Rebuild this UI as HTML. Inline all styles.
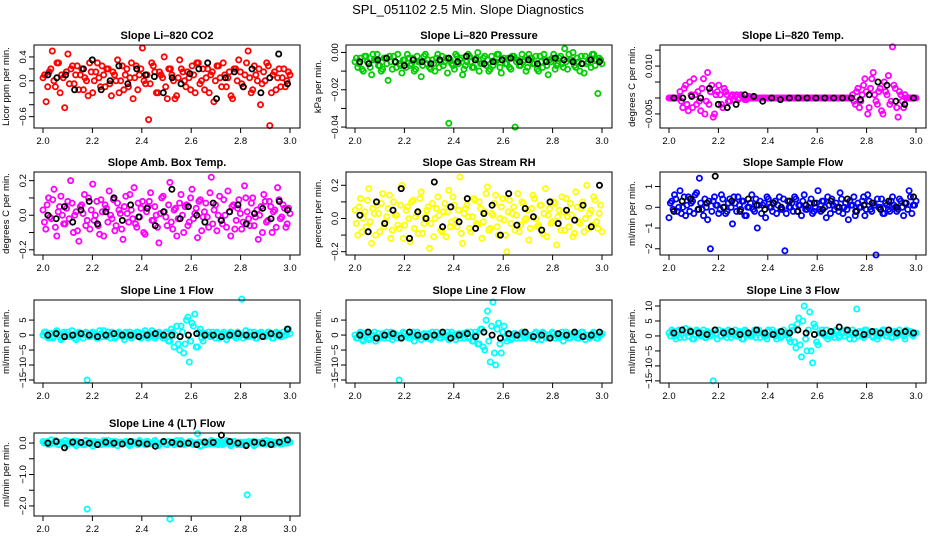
<!DOCTYPE html>
<html><head><meta charset="utf-8"><style>
body{margin:0;background:#fff;}
svg{display:block;font-family:"Liberation Sans",Arial,sans-serif;}
</style></head><body>
<svg id="c" width="936" height="540" viewBox="0 0 936 540">
<rect width="936" height="540" fill="#fff"/>
<text x="468" y="14" text-anchor="middle" font-size="13">SPL_051102  2.5 Min. Slope Diagnostics</text>
</svg>
<script>
const co2Vals=[0.05,-0.35,0.15,0.5,-0.1,0.3,0.1,-0.45,0.45,0.2,-0.05,0.25,0.1,-0.15,0.0,0.3,-0.2,0.15,0.05,0.25,-0.1,0.2,-0.25,0.1,0.35,0.0,-0.15,0.2,0.05,-0.3,0.25,0.1,0.55,-0.05,-0.65,0.3,0.15,-0.2,0.1,0.4,-0.3,0.2,0.0,-0.25,0.35,0.15,-0.1,0.05,0.25,-0.2,0.3,0.0,-0.15,0.2,0.1,-0.35,0.25,0.05,0.3,-0.1,0.15,-0.3,0.2,0.35,-0.05,0.1,0.5,-0.2,0.25,0.0,-0.4,0.15,0.3,-0.75,0.1,-0.15,0.2,0.05,-0.1,0.15];
const co2Vals2=[0.1,-0.1,0.2,0.0,0.3,-0.2,0.05,0.15,-0.05,0.25,0.1,-0.15,0.2,0.05,-0.25,0.15,0.0,0.3,-0.1,0.1,0.2,-0.05,0.15,0.0,-0.2,0.25,0.1,-0.1,0.3,0.05,-0.15,0.2,0.0,0.1,-0.05,0.25,-0.2,0.15,0.05,-0.1,0.2,0.1,-0.3,0.05,0.2,0.0,0.15,-0.15,0.1,0.3,-0.05,0.2,0.05,-0.2,0.15,0.0,0.25,-0.1,0.1,0.05,-0.25,0.2,0.0,0.15,-0.1,0.3,0.05,-0.15,0.1,0.2,-0.05,0.0,0.25,-0.2,0.15,0.05,-0.1,0.2,0.0,0.1];
const co2Black=[0.1,0.05,0.1,-0.15,0.2,0.35,-0.15,0.0,0.25,-0.05,0.2,0.1,0.07,-0.2,0.05,-0.05,0.12,0.2,0.3,-0.3,0.05,0.15,-0.1,0.2,-0.2,0.05,0.45,-0.05];
const presVals=[-5,-8,-3,-10,-2,-6,-12,-4,-1,-7,-9,-3,-15,-5,-2,-8,-6,-11,-4,-1,-7,-3,-9,-5,-13,-2,-6,-8,-4,-10,-1,-5,-7,-3,-38,-6,-9,-2,-4,-12,-7,-1,-5,-8,-3,-10,-6,-2,-4,-9,-7,-5,-1,-11,-3,-6,-8,-2,-40,-4,-7,-5,-10,-1,-3,-6,-9,-2,-8,-4,-12,-5,-1,-7,-3,-6,2,-9,-4,0,-8,-5,-2,-11,-6,-3,-1,-7,-22,-4].map(v=>v/1000);
const presVals2=[-3,-6,-9,-2,-5,-8,-1,-4,-7,-10,-3,-6,-2,-9,-5,-1,-7,-4,-8,-3,-6,-10,-2,-5,-7,-1,-4,-9,-6,-3,-8,-2,-5,-11,-4,-7,-1,-6,-3,-9,-5,-2,-8,-4,0,-6,-3,-7,-10,-2,-5,-1,-8,-4,-6,-3,-9,-2,-5,-7,-1,-4,-8,-3,-6,-2,-10,-5,-1,-7,-4,-3,-9,-6,-2,-8,-5,-1,-4,-7,-3,-10,-6,-2,-5,-8,-1,-4,-3,-6].map(v=>v/1000);
const presBlack=[-5,-6,-4,-3,-5,-7,-4,-5,-6,-4,-3,-5,-2,-4,-6,-5,-4,-3,-5,-4,-6,-5,-3,-4,-5,-6,-4,-5].map(v=>v/1000);
const tempVals=[0,0,0,0,2,-3,4,-4,1,6,-2,-1,3,-5,8,2,-6,1,4,-2,3,1,-1,1,0.5,-0.5,1,0,-0.5,0.5,0,0,0,0,0,0,0,0,0,0,0,0,0,0,0,0,0,0,0,0,0,0,0,0,0,0,0,0,0,0,0,0,0,0,0,0,0,-1,2,-3,1,6,-5,3,8,-1,2,-4,5,1,-2,16,3,-6,1,-3,0,0,0,0].map(v=>v/1000);
const tempVals2=[0,0,0,0,-1,3,-2,5,-3,1,2,-4,6,-1,-2,4,-5,2,1,-3,2,-1,0.5,-0.5,1,0,0.5,-0.5,0,0,0,0,0,0,0,0,0,0,0,0,0,0,0,0,0,0,0,0,0,0,0,0,0,0,0,0,0,0,0,0,0,0,0,0,0,0,1,-2,3,-1,4,2,-3,6,1,-2,3,-5,2,7,-1,4,-3,2,-1,1,0,0,0,0].map(v=>v/1000);
const tempBlack=[0,0,0.5,0,3,-2,-3,-2,1,0.5,-1,0,-0.5,0,0,0,0,0,0,0,0,-0.5,1,5,4,-1,-2,0].map(v=>v/1000);
const ambVals=[3,-8,10,-2,15,-12,5,0,-5,8,20,-10,2,-15,6,12,-3,-8,18,0,-6,9,-12,4,14,-2,-9,7,1,-14,11,-4,3,16,-7,-1,8,-11,5,13,-3,0,-16,10,2,-6,19,-8,4,-2,12,-10,6,-4,15,1,-13,9,-1,7,-7,22,3,-9,11,-5,0,14,-12,6,-3,9,-8,17,2,-6,10,-1,-14,5,12,-4,8,-10,3,16,-2,6,-7,4].map(v=>v/100);
const ambVals2=[-4,6,-1,9,-7,2,11,-5,4,-2,7,0,-9,5,1,-6,10,3,-3,8,-11,2,6,-4,0,9,-6,3,-8,5,1,12,-2,-5,7,4,-10,2,8,-3,5,-7,1,11,-1,6,-4,3,-12,7,0,5,-6,10,-2,4,8,-9,2,-1,13,-5,6,0,-3,9,-7,2,5,-8,4,1,-4,10,-2,7,-6,3,0,-10,8,-3,5,2,-7,9,-1,4,-5,1].map(v=>v/100);
const ambBlack=[0,-2,5,-4,3,8,-5,2,10,-3,6,-1,4,-6,2,15,-2,5,0,-4,7,-3,2,6,-5,1,4,-2,8,3].map(v=>v/100);
const rhVals=[5,-10,12,0,-5,18,-15,3,8,-8,15,-2,6,-12,10,2,-6,20,-4,7,-14,11,1,-9,16,-3,5,-18,9,0,13,-7,4,-11,17,-2,8,-5,25,-15,6,1,-8,12,-3,10,-12,4,19,-6,2,14,-10,7,-1,-20,11,3,-7,15,-4,9,0,-13,6,12,-5,8,-9,18,2,-3,10,-16,5,13,-7,1,9,-11,16,-2,6,-8,20,3,-4,11,-6,8].map(v=>v/100);
const rhVals2=[-3,7,-8,4,11,-2,6,-10,3,9,-5,1,14,-7,2,-4,8,-12,5,0,10,-6,3,12,-9,1,7,-3,-11,6,2,-8,9,4,-5,13,-1,5,-9,3,8,-6,1,11,-4,6,-2,15,-7,3,9,-5,0,12,-10,4,-3,7,2,-8,10,-1,5,-6,14,0,-4,8,3,-11,6,-2,9,1,-7,4,12,-5,2,-9,7,-3,10,0,-6,5,13,-2,3,-8].map(v=>v/100);
const rhBlack=[2,-8,10,-3,5,18,-12,4,0,22,-5,7,-2,12,-6,3,8,-10,15,-4,6,1,-7,10,-3,5,-1,8,-5,20].map(v=>v/100);
const sfVals=[-5,3,6,-2,8,0,-4,5,2,-3,7,14,-1,4,-6,-20,3,1,-3,6,0,-2,4,-8,2,5,-1,3,-4,0,6,-2,-10,3,1,-5,4,0,2,-3,5,-1,-21,3,0,-2,4,1,-4,6,-1,2,-3,0,8,-2,3,-5,1,4,-1,0,7,-3,2,-6,1,5,-2,0,3,-4,6,-1,2,-23,0,4,-3,1,-2,5,0,-1,3,-4,2,8,-3,1].map(v=>v/10);
const sfVals2=[2,-1,4,0,-3,5,1,-2,3,6,-1,2,-4,0,3,-2,5,1,-1,4,-3,2,0,5,-2,1,3,-4,0,2,-1,4,1,-3,2,5,0,-2,3,1,-1,4,-3,0,2,5,-2,1,3,-1,0,4,-2,2,-1,3,0,5,-3,1,2,-2,4,0,-1,3,1,-4,2,0,5,-1,3,-2,1,4,0,-3,2,-1,3,1,-2,4,0,2,-1,5,1,3].map(v=>v/10);
const sfBlack=[-2,3,4,-1,2,15,0,3,-2,4,1,-1,2,0,3,-2,1,2,-1,3,0,4,-2,1,2,-1,3,0,2,5].map(v=>v/10);
const l1Vals=[0,1,-1,0.5,-0.5,1.5,0,-1,0.5,1,-0.5,0,-1.5,1,0,0.5,-15,-0.5,1,0,-1,0.5,1.5,-0.5,0,1,-1,0.5,0,-0.5,1,0,-1,0.5,1,-0.5,0,1.5,-1,0.5,0,-0.5,1,0,-1,0.5,-2,1,0,-3,3,-6,5,-9,4,7,-4,2,-2,0.5,1,-0.5,0,1,-1,0.5,0,-0.5,1,0,-1,0.5,12,0,-0.5,1,0,-1,0.5,1,-0.5,0,1,-1,0.5,0,-0.5,1,0,2];
const l1Vals2=[1,-0.5,0.5,-1,1,0,-1.5,1,-0.5,0,1.5,-1,0.5,0,-1,1,-0.5,0.5,0,-1,1.5,-0.5,0,1,-1,0.5,-0.5,1,0,-1.5,0.5,1,-0.5,0,1,-1,0.5,0,-0.5,1.5,-1,0,0.5,-1,1,-2,2,-4,3,-5,1,-3,6,-2,3,-4,1,-1,0.5,0,-0.5,1,-1,0.5,0,1,-1.5,0.5,0,-0.5,1,0,-1,1.5,-0.5,0,1,-1,0.5,0,-0.5,1,0,-1,1,0.5,-0.5,0,1,0.5];
const l1Black=[0,0.5,-0.5,0,0.5,0,-0.5,0,0.5,0,0,-0.5,0,0.5,0,0,-0.5,0,0.5,0,0,-0.5,0,0.5,0,0,-0.5,0.5,0,2];
const l2Vals=[0,-1,1,-2,0.5,-1.5,0,1,-0.5,-1,0.5,0,-1,1,-0.5,0,-15,-1,0.5,0,-1,1,-0.5,0,-1.5,0.5,0,-1,1,-0.5,0,-1,0.5,0,-1.5,1,-0.5,0,-1,0.5,0,-1,1,-2,0,-3,2,-5,8,-9,11,-10,4,-6,3,-2,0,-1,0.5,0,-1,1,-0.5,0,-1,0.5,-1.5,0,1,-0.5,0,-1,0.5,0,-1,1,-0.5,0,-1,0.5,0,-1,1,-0.5,0,-1,0.5,0,-1,0];
const l2Vals2=[-1,0.5,-1.5,0,1,-1,0,-2,0.5,-0.5,-1,1,0,-1.5,0.5,-1,0,1,-0.5,-1,0,-2,1,-0.5,0,-1,0.5,-1.5,0,1,-1,0,-0.5,1,-1,0,-1.5,0.5,0,-1,1,-0.5,-2,1,-3,2,-4,5,-2,3,-6,2,-3,1,-1,0,-1.5,0.5,-1,0,1,-1,0,-0.5,-1,1,0,-1.5,0.5,-1,0,1,-1,-0.5,0,-2,1,-1,0,0.5,-1,0,1,-1.5,0,-0.5,1,-1,0,0.5];
const l2Black=[0,1,-1,0,0.5,-1,1,0,-0.5,0,1,-1,0,0.5,-0.5,1,0,-1,0.5,0,1,-0.5,0,-1,0.5,0,1,-0.5,0,1];
const l3Vals=[1,2,0,1.5,-0.5,1,2.5,0,1,-1,2,0.5,1,-0.5,1.5,0,-15,1,2,0,1,-0.5,1.5,0.5,2,0,1,-1,1.5,0.5,0,2,1,-0.5,1,0,2,0.5,1,-1,1.5,0,1,0.5,-2,2,-4,6,-7,10,-5,8,-9,3,-3,1,0.5,2,0,1,-0.5,1.5,0,1,2,0.5,1,-1,9,1.5,0,2,0.5,1,-0.5,1.5,0,1,2,0,1,-0.5,1.5,0.5,1,0,2,1,0.5,1];
const l3Vals2=[0,1.5,-1,2,0.5,-0.5,1,2,-1,0.5,1.5,0,2,-0.5,1,0.5,2,-1,0,1.5,0.5,2,-0.5,1,0,1.5,-1,2,0.5,0,1,-0.5,2,1,0,-1,1.5,2,0,0.5,-0.5,2,1,-1,3,-2,4,-3,5,-1,2,-5,4,-2,1,2,0,-1,1.5,0.5,2,-0.5,1,0,1.5,-1,2,0.5,0,1,-0.5,2,1,0,1.5,-1,0.5,2,0,1,-0.5,1.5,0,2,0.5,-1,1,1.5,0,1];
const l3Black=[1,2,1.5,1,0.5,2,1,1.5,0.5,1,2,1,0.5,1.5,1,2,1,0.5,1,1.5,3,2,1,0.5,1.5,1,2,1,1.5,1];
const l4Vals=[5,0,-5,10,0,5,-5,0,8,-3,0,5,-8,3,0,-5,-210,5,-10,0,3,-5,8,0,-3,5,0,-8,3,0,5,-5,0,3,-3,8,0,-5,5,0,-3,3,-8,0,5,-5,-242,3,0,-3,8,-5,0,5,-3,0,30,-10,3,-5,0,8,-3,5,0,-5,3,0,-8,5,-3,0,-5,3,-165,0,5,-5,3,0,-3,8,0,-5,3,0,-3,5,0,5].map(v=>v/100);
const l4Vals2=[0,5,-3,0,8,-5,3,0,-8,5,0,-3,5,0,-5,8,0,-3,5,-5,0,3,-3,8,0,-5,5,0,-3,3,0,-8,5,0,-5,3,0,5,-3,0,8,-5,0,3,-3,5,0,-5,8,0,3,-3,0,5,-5,0,3,-8,5,0,-3,5,0,-5,3,0,8,-3,0,5,-5,3,0,-3,5,0,-8,3,0,5,-3,0,5,-5,3,0,-3,8,0,3].map(v=>v/100);
const l4Black=[0,5,-15,3,2,0,-5,3,0,-3,5,0,-3,-10,5,2,-3,0,-5,3,2,25,5,0,-8,3,0,-5,3,10].map(v=>v/100);
const xTicks=[2.0,2.2,2.4,2.6,2.8,3.0];

const panels=[
 {name:'co2',title:'Slope Li\u2013820 CO2',yl:'Licor ppm per min.',c:'#ff0000',v:co2Vals,v2:co2Vals2,b:co2Black,ylim:[-0.79,0.6],ticks:[-0.6,-0.4,-0.2,0,0.2,0.4],labs:[[-0.6,'\u22120.6'],[0,'0.0'],[0.4,'0.4']],col:0,row:0},
 {name:'pressure',title:'Slope Li\u2013820 Pressure',yl:'kPa per min.',c:'#00cd00',v:presVals,v2:presVals2,b:presBlack,ylim:[-0.0405,0.004],ticks:[-0.04,-0.03,-0.02,-0.01,0],labs:[[-0.04,'\u22120.04'],[-0.02,'\u22120.02'],[0,'0.00']],col:1,row:0},
 {name:'temp',title:'Slope Li\u2013820 Temp.',yl:'degrees C per min.',c:'#ff00ff',v:tempVals,v2:tempVals2,b:tempBlack,ylim:[-0.0094,0.0166],ticks:[-0.005,0,0.005,0.01,0.015],labs:[[-0.005,'\u22120.005'],[0.01,'0.010']],col:2,row:0},
 {name:'amb-box-temp',title:'Slope Amb. Box Temp.',yl:'degrees C per min.',c:'#ff00ff',v:ambVals,v2:ambVals2,b:ambBlack,ylim:[-0.23,0.25],ticks:[-0.2,-0.1,0,0.1,0.2],labs:[[-0.2,'\u22120.2'],[0,'0.0'],[0.2,'0.2']],col:0,row:1},
 {name:'gas-rh',title:'Slope Gas Stream RH',yl:'percent per min.',c:'#ffff00',v:rhVals,v2:rhVals2,b:rhBlack,ylim:[-0.22,0.28],ticks:[-0.2,-0.1,0,0.1,0.2],labs:[[-0.2,'\u22120.2'],[0,'0.0'],[0.2,'0.2']],col:1,row:1},
 {name:'sample-flow',title:'Slope Sample Flow',yl:'ml/min per min.',c:'#0000ff',v:sfVals,v2:sfVals2,b:sfBlack,ylim:[-2.3,1.7],ticks:[-2,-1,0,1],labs:[[-2,'\u22122'],[-1,'\u22121'],[0,'0'],[1,'1']],col:2,row:1},
 {name:'line1-flow',title:'Slope Line 1 Flow',yl:'ml/min per min.',c:'#00ffff',v:l1Vals,v2:l1Vals2,b:l1Black,ylim:[-16,11.7],ticks:[-15,-10,-5,0,5],labs:[[-15,'\u221215'],[-10,'\u221210'],[-5,'\u22125'],[0,'0'],[5,'5']],col:0,row:2},
 {name:'line2-flow',title:'Slope Line 2 Flow',yl:'ml/min per min.',c:'#00ffff',v:l2Vals,v2:l2Vals2,b:l2Black,ylim:[-16,11.7],ticks:[-15,-10,-5,0,5],labs:[[-15,'\u221215'],[-10,'\u221210'],[-5,'\u22125'],[0,'0'],[5,'5']],col:1,row:2},
 {name:'line3-flow',title:'Slope Line 3 Flow',yl:'ml/min per min.',c:'#00ffff',v:l3Vals,v2:l3Vals2,b:l3Black,ylim:[-15.7,12],ticks:[-15,-10,-5,0,5,10],labs:[[-15,'\u221215'],[-10,'\u221210'],[-5,'\u22125'],[0,'0'],[5,'5'],[10,'10']],col:2,row:2},
 {name:'line4-flow',title:'Slope Line 4 (LT) Flow',yl:'ml/min per min.',c:'#00ffff',v:l4Vals,v2:l4Vals2,b:l4Black,ylim:[-2.32,0.32],ticks:[-2,-1.5,-1,-0.5,0],labs:[[-2,'\u22122.0'],[-1,'\u22121.0'],[0,'0.0']],col:0,row:3}
];
const NS='http://www.w3.org/2000/svg';
const svg=document.getElementById('c');
const colL=[34,346,660],rowT=[45,172,300,433],W=266,H=83;
function mk(tag,at,parent,txt){const e=document.createElementNS(NS,tag);for(const k in at)e.setAttribute(k,at[k]);if(txt!==undefined)e.textContent=txt;parent.appendChild(e);return e;}
panels.forEach(p=>{
 const L=colL[p.col],T=rowT[p.row];
 const g=mk('g',{},svg);
 
 
 const xs=v=>L+9+(v-2)*247;
 const ys=v=>T+H-(v-p.ylim[0])/(p.ylim[1]-p.ylim[0])*H;
 const t=mk('text',{x:L+W/2,y:T-6,'text-anchor':'middle','font-size':'11','font-weight':'bold'},g,p.title);
 
 
 const yl=mk('text',{x:0,y:0,'text-anchor':'middle','font-size':'9.5',transform:`translate(${L-25},${T+H/2}) rotate(-90)`},g,p.yl);
 
 
 const pts=mk('g',{fill:'none','stroke-width':'1.8'},g);
 [p.v,p.v2].forEach((arr,k)=>{
  arr.forEach((v,i)=>{const c=mk('circle',{cx:xs(2+(i+k*0.5)/(arr.length-1)*(arr.length-1)/(arr.length-0.5)).toFixed(1),cy:ys(v).toFixed(1),r:2.6,stroke:p.c},pts);
   
   });
 });
 p.b.forEach((v,i)=>{const c=mk('circle',{cx:xs(2.02+i/(p.b.length-1)*0.97).toFixed(1),cy:ys(v).toFixed(1),r:2.6,stroke:'#000'},pts);
  
  });
 const box=mk('rect',{x:L,y:T,width:W,height:H,fill:'none',stroke:'#000','stroke-width':'1'},g);
 
 
 xTicks.forEach(v=>{const x=xs(v);mk('line',{x1:x,x2:x,y1:T+H,y2:T+H+5,stroke:'#000'},g);
  const l=mk('text',{x:x,y:T+H+16,'text-anchor':'middle','font-size':'9.5'},g,v.toFixed(1));
  
  });
 p.ticks.forEach(v=>{const y=ys(v);mk('line',{x1:L-5,x2:L,y1:y,y2:y,stroke:'#000'},g);});
 p.labs.forEach(([v,s])=>{const l=mk('text',{x:0,y:0,'text-anchor':'middle','font-size':'9.5',transform:`translate(${L-8},${ys(v)}) rotate(-90)`},g,s);
  
  });
});
</script>
</body></html>
